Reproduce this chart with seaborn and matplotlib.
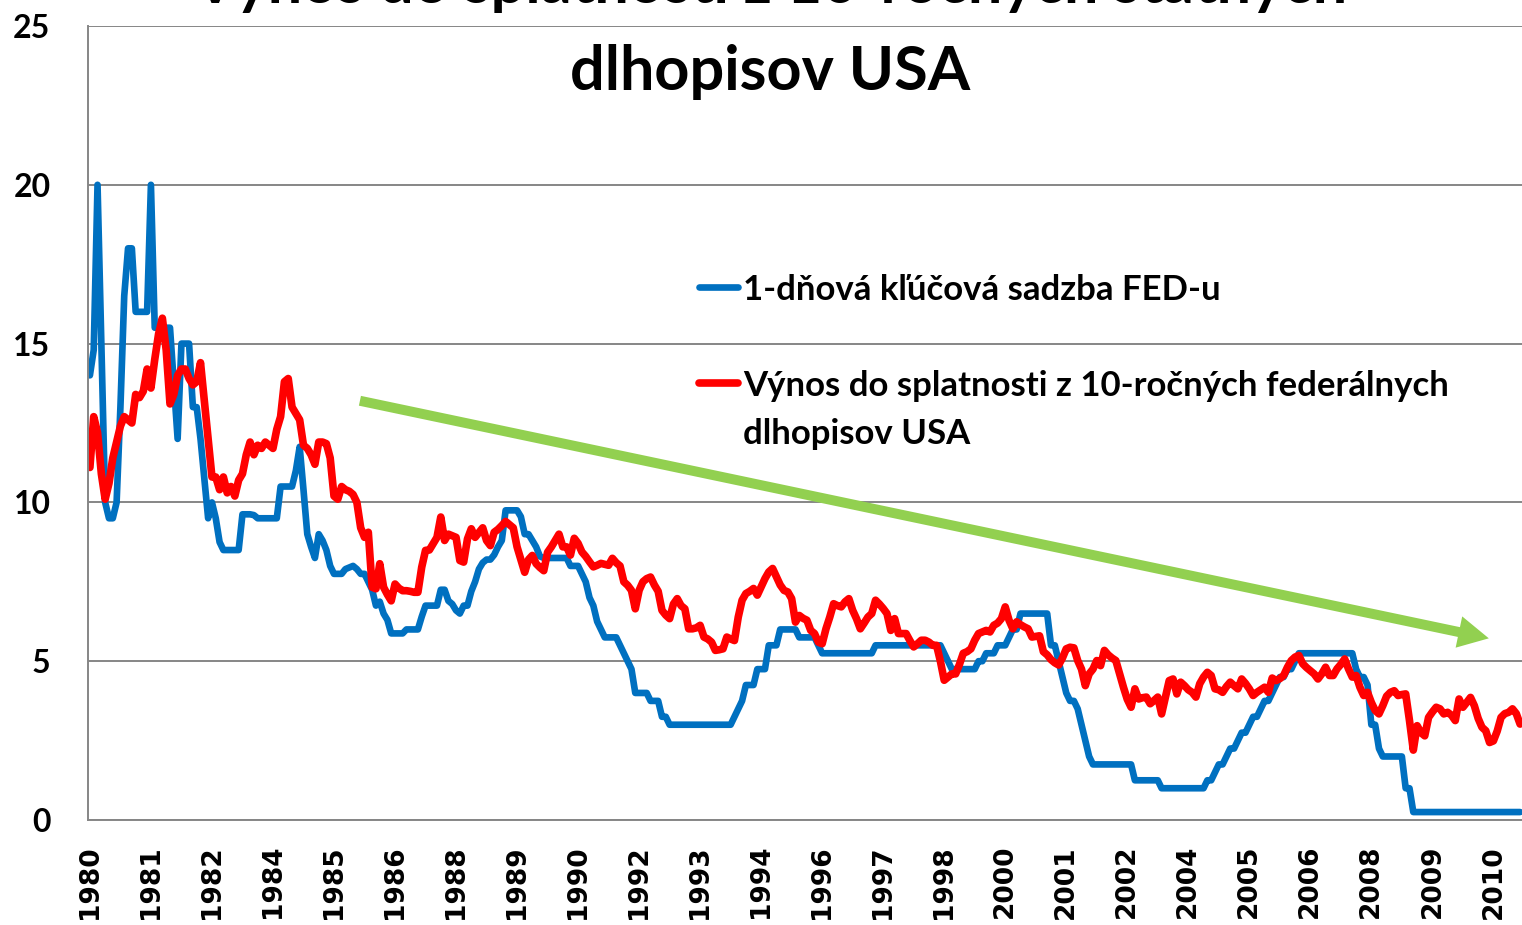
import matplotlib
matplotlib.use("Agg")
import matplotlib.pyplot as plt
import numpy as np
import pandas as pd
import seaborn as sns

# monthly values, Jan 1980 .. Apr 2011
fed_rate = [
    14.0, 14.8, 20.0, 15.0, 10.0, 9.5, 9.5, 10.0, 13.0, 16.5, 18.0, 18.0,        # 1980
    16.0, 16.0, 16.0, 16.0, 20.0, 15.5, 15.5, 15.5, 15.5, 15.5, 13.75, 12.0,     # 1981
    15.0, 15.0, 15.0, 13.0, 13.0, 12.0, 10.75, 9.5, 10.0, 9.5, 8.75, 8.5,        # 1982
    8.5, 8.5, 8.5, 8.5, 9.625, 9.625, 9.625, 9.6, 9.5, 9.5, 9.5, 9.5,            # 1983
    9.5, 9.5, 10.5, 10.5, 10.5, 10.5, 11.0, 11.75, 10.4, 9.0, 8.6, 8.25,         # 1984
    9.0, 8.8, 8.5, 8.0, 7.75, 7.75, 7.75, 7.9, 7.95, 8.0, 7.9, 7.75,             # 1985
    7.75, 7.5, 7.25, 6.75, 6.875, 6.5, 6.3, 5.875, 5.875, 5.875, 5.875, 6.0,     # 1986
    6.0, 6.0, 6.0, 6.4, 6.75, 6.75, 6.75, 6.75, 7.25, 7.25, 6.9, 6.8,            # 1987
    6.6, 6.5, 6.75, 6.75, 7.2, 7.5, 7.9, 8.1, 8.2, 8.2, 8.35, 8.6,               # 1988
    8.8, 9.75, 9.75, 9.75, 9.75, 9.55, 9.0, 9.0, 8.8, 8.6, 8.3, 8.25,            # 1989
    8.25, 8.25, 8.25, 8.25, 8.25, 8.25, 8.0, 8.0, 8.0, 7.75, 7.5, 7.0,           # 1990
    6.75, 6.25, 6.0, 5.75, 5.75, 5.75, 5.75, 5.5, 5.25, 5.0, 4.75, 4.0,          # 1991
    4.0, 4.0, 4.0, 3.75, 3.75, 3.75, 3.25, 3.25, 3.0, 3.0, 3.0, 3.0,             # 1992
    3.0, 3.0, 3.0, 3.0, 3.0, 3.0, 3.0, 3.0, 3.0, 3.0, 3.0, 3.0,                  # 1993
    3.0, 3.25, 3.5, 3.75, 4.25, 4.25, 4.25, 4.75, 4.75, 4.75, 5.5, 5.5,          # 1994
    5.5, 6.0, 6.0, 6.0, 6.0, 6.0, 5.75, 5.75, 5.75, 5.75, 5.75, 5.5,             # 1995
    5.25, 5.25, 5.25, 5.25, 5.25, 5.25, 5.25, 5.25, 5.25, 5.25, 5.25, 5.25,      # 1996
    5.25, 5.25, 5.5, 5.5, 5.5, 5.5, 5.5, 5.5, 5.5, 5.5, 5.5, 5.5,                # 1997
    5.5, 5.5, 5.5, 5.5, 5.5, 5.5, 5.5, 5.5, 5.25, 5.0, 4.75, 4.75,               # 1998
    4.75, 4.75, 4.75, 4.75, 4.75, 5.0, 5.0, 5.25, 5.25, 5.25, 5.5, 5.5,          # 1999
    5.5, 5.75, 6.0, 6.0, 6.5, 6.5, 6.5, 6.5, 6.5, 6.5, 6.5, 6.5,                 # 2000
    5.5, 5.5, 5.0, 4.5, 4.0, 3.75, 3.75, 3.5, 3.0, 2.5, 2.0, 1.75,               # 2001
    1.75, 1.75, 1.75, 1.75, 1.75, 1.75, 1.75, 1.75, 1.75, 1.75, 1.25, 1.25,      # 2002
    1.25, 1.25, 1.25, 1.25, 1.25, 1.0, 1.0, 1.0, 1.0, 1.0, 1.0, 1.0,             # 2003
    1.0, 1.0, 1.0, 1.0, 1.0, 1.25, 1.25, 1.5, 1.75, 1.75, 2.0, 2.25,             # 2004
    2.25, 2.5, 2.75, 2.75, 3.0, 3.25, 3.25, 3.5, 3.75, 3.75, 4.0, 4.25,          # 2005
    4.5, 4.5, 4.75, 4.75, 5.0, 5.25, 5.25, 5.25, 5.25, 5.25, 5.25, 5.25,         # 2006
    5.25, 5.25, 5.25, 5.25, 5.25, 5.25, 5.25, 5.25, 4.75, 4.5, 4.5, 4.25,        # 2007
    3.0, 3.0, 2.25, 2.0, 2.0, 2.0, 2.0, 2.0, 2.0, 1.0, 1.0, 0.25,                # 2008
    0.25, 0.25, 0.25, 0.25, 0.25, 0.25, 0.25, 0.25, 0.25, 0.25, 0.25, 0.25,      # 2009
    0.25, 0.25, 0.25, 0.25, 0.25, 0.25, 0.25, 0.25, 0.25, 0.25, 0.25, 0.25,      # 2010
    0.25, 0.25, 0.25, 0.25,                                                      # 2011
]

yield_10y = [
    11.1, 12.7, 12.2, 10.9, 10.1, 10.6, 11.4, 11.9, 12.4, 12.7, 12.6, 12.5,      # 1980
    13.4, 13.3, 13.5, 14.2, 13.6, 14.5, 15.3, 15.8, 14.8, 13.1, 13.4, 14.0,      # 1981
    14.2, 14.2, 13.9, 13.7, 13.8, 14.4, 13.2, 12.0, 10.8, 10.8, 10.4, 10.8,      # 1982
    10.3, 10.5, 10.2, 10.7, 10.9, 11.5, 11.9, 11.5, 11.8, 11.7, 11.9, 11.8,      # 1983
    11.7, 12.3, 12.7, 13.8, 13.9, 13.0, 12.8, 12.6, 11.8, 11.7, 11.5, 11.2,      # 1984
    11.9, 11.9, 11.85, 11.4, 10.2, 10.1, 10.5, 10.4, 10.35, 10.25, 10.0, 9.2,    # 1985
    8.9, 9.06, 7.33, 7.28, 8.07, 7.33, 7.1, 6.9, 7.43, 7.3, 7.22, 7.22,          # 1986
    7.2, 7.17, 7.17, 7.96, 8.49, 8.5, 8.7, 8.9, 9.54, 8.8, 9.0, 8.95,            # 1987
    8.9, 8.17, 8.12, 8.85, 9.17, 8.9, 9.05, 9.2, 8.8, 8.64, 9.06, 9.15,          # 1988
    9.27, 9.4, 9.3, 9.2, 8.6, 8.2, 7.8, 8.2, 8.33, 8.07, 7.95, 7.85,             # 1989
    8.43, 8.6, 8.8, 9.0, 8.6, 8.6, 8.34, 8.87, 8.71, 8.44, 8.3, 8.13,            # 1990
    7.97, 8.02, 8.08, 8.05, 8.02, 8.24, 8.1, 8.0, 7.5, 7.39, 7.23, 6.65,         # 1991
    7.23, 7.5, 7.6, 7.65, 7.4, 7.2, 6.6, 6.45, 6.34, 6.8, 6.97, 6.75,            # 1992
    6.65, 6.02, 6.02, 6.05, 6.13, 5.76, 5.7, 5.6, 5.34, 5.36, 5.39, 5.76,        # 1993
    5.7, 5.65, 6.39, 6.92, 7.13, 7.2, 7.29, 7.08, 7.34, 7.6, 7.81, 7.92,         # 1994
    7.66, 7.4, 7.23, 7.18, 6.97, 6.23, 6.44, 6.35, 6.29, 5.97, 5.87, 5.6,        # 1995
    5.55, 6.02, 6.39, 6.81, 6.75, 6.71, 6.87, 6.97, 6.6, 6.34, 6.02, 6.2,        # 1996
    6.39, 6.5, 6.92, 6.8, 6.66, 6.5, 5.97, 6.34, 5.87, 5.87, 5.87, 5.65,         # 1997
    5.45, 5.55, 5.66, 5.66, 5.6, 5.5, 5.5, 5.0, 4.4, 4.5, 4.6, 4.6,              # 1998
    4.9, 5.25, 5.3, 5.39, 5.66, 5.87, 5.92, 5.97, 5.92, 6.13, 6.2, 6.34,         # 1999
    6.71, 6.29, 6.02, 6.24, 6.15, 6.08, 6.02, 5.76, 5.78, 5.8, 5.3, 5.2,         # 2000
    5.05, 4.95, 4.88, 5.1, 5.39, 5.44, 5.42, 5.02, 4.75, 4.23, 4.6, 4.75,        # 2001
    5.02, 4.86, 5.34, 5.2, 5.1, 5.02, 4.6, 4.18, 3.8, 3.55, 4.13, 3.81,          # 2002
    3.85, 3.87, 3.66, 3.76, 3.87, 3.34, 3.87, 4.39, 4.44, 3.97, 4.34, 4.23,      # 2003
    4.1, 4.02, 3.87, 4.29, 4.5, 4.65, 4.55, 4.13, 4.1, 4.02, 4.2, 4.34,          # 2004
    4.23, 4.13, 4.44, 4.3, 4.13, 3.92, 4.02, 4.1, 4.18, 4.02, 4.47, 4.39,        # 2005
    4.45, 4.55, 4.81, 5.02, 5.13, 5.18, 4.92, 4.8, 4.7, 4.6, 4.44, 4.6,          # 2006
    4.81, 4.55, 4.55, 4.76, 4.9, 5.07, 4.76, 4.5, 4.55, 4.18, 3.92, 4.02,        # 2007
    3.7, 3.45, 3.34, 3.6, 3.9, 4.02, 4.07, 3.92, 3.95, 3.97, 3.13, 2.2,          # 2008
    2.97, 2.75, 2.65, 3.23, 3.4, 3.55, 3.5, 3.34, 3.39, 3.3, 3.13, 3.81,         # 2009
    3.55, 3.7, 3.86, 3.6, 3.2, 2.92, 2.81, 2.44, 2.49, 2.8, 3.23, 3.35,          # 2010
    3.39, 3.5, 3.35, 3.02,                                                       # 2011
]

series_labels = ["1-dňová kľúčová sadzba FED-u",
                 "Výnos do splatnosti z 10-ročných federálnych\ndlhopisov USA"]
title_lines = ["Výnos do splatnosti z 10-ročných štátnych", "dlhopisov USA"]
y_ticks = [0, 5, 10, 15, 20, 25]
label_every = 16  # excel category axis shows every 16th month

# trend arrow, in (month index, percent)
trend_start = (70.8, 13.2)
trend_end = (366.8, 5.72)

BLUE = "#0070C0"
RED = "#FF0000"
GREEN = "#92D050"
GRID = "#868686"

months = pd.date_range("1980-01-01", periods=len(fed_rate), freq="MS")
df = pd.DataFrame({"idx": np.arange(len(months)), "fed": fed_rate, "y10": yield_10y})

sns.set_theme(style="white")
plt.rcParams["font.family"] = ["Lato", "DejaVu Sans"]
plt.rcParams["text.color"] = "black"
plt.rcParams["xtick.color"] = "black"
plt.rcParams["ytick.color"] = "black"

fig = plt.figure(figsize=(15.22, 9.25), dpi=100)
W, H = 1522, 925
ax = fig.add_axes([88 / W, (H - 820) / H, 1 - 88 / W, (820 - 26) / H])

sns.lineplot(data=df, x="idx", y="fed", ax=ax, color=BLUE, linewidth=4.8,
             estimator=None, sort=False, solid_joinstyle="round", solid_capstyle="round")
sns.lineplot(data=df, x="idx", y="y10", ax=ax, color=RED, linewidth=5.5,
             estimator=None, sort=False, solid_joinstyle="round", solid_capstyle="round")

ax.set_xlim(-0.5, 375.5)
ax.set_ylim(0, 25)
ax.set_xlabel("")
ax.set_ylabel("")

ax.set_yticks(y_ticks)
ax.set_yticklabels([str(t) for t in y_ticks], fontsize=23, fontweight="bold")
ax.yaxis.grid(True, color=GRID, linewidth=1.4)
ax.xaxis.grid(False)
tick_pos = df["idx"].iloc[::label_every]
ax.set_xticks(tick_pos)
ax.set_xticklabels([str(d.year) for d in months[::label_every]], rotation=90,
                   fontsize=19, fontweight="bold", family="DejaVu Sans")
ax.tick_params(axis="x", length=0, pad=18)
ax.tick_params(axis="y", length=0, pad=27)

for side in ["top", "right"]:
    ax.spines[side].set_visible(False)
for side in ["left", "bottom"]:
    ax.spines[side].set_color(GRID)
    ax.spines[side].set_linewidth(1.4)

ax.annotate("", xy=trend_end, xytext=trend_start,
            arrowprops=dict(arrowstyle="simple,head_width=2.3,head_length=2.2,tail_width=0.72",
                            color=GREEN, shrinkA=0, shrinkB=0, mutation_scale=10, linewidth=0))

# legend drawn by hand so the red key sits on the first text line
# (key y in px, colour, width, y of the label's last baseline in px)
legend_rows = [(287, BLUE, 4.8, 300), (383, RED, 5.5, 444)]
for (ypx, col, lw, base), lab in zip(legend_rows, series_labels):
    fig.lines.append(plt.Line2D([699 / W, 738 / W], [1 - ypx / H] * 2, color=col, lw=lw,
                                solid_capstyle="round", transform=fig.transFigure))
    fig.text(743 / W, 1 - base / H, lab, ha="left", va="baseline", fontsize=25,
             fontweight="bold", linespacing=1.62)

fig.text(770 / W, 1 - 3 / H, title_lines[0], ha="center", va="baseline",
         fontsize=44, fontweight="bold")
fig.text(770 / W, 1 - 90 / H, title_lines[1], ha="center", va="baseline",
         fontsize=44, fontweight="bold")

fig.savefig("out.png", dpi=100)
